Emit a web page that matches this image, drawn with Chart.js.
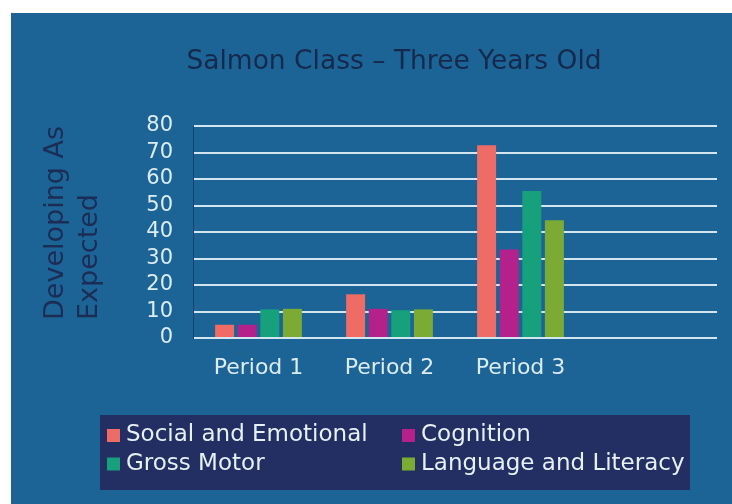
<!DOCTYPE html>
<html>
<head>
<meta charset="utf-8">
<script src="https://cdn.jsdelivr.net/npm/chart.js@4/dist/chart.umd.min.js"></script>
<style>
html,body{margin:0;padding:0;background:#fff;}
#wrap{width:732px;height:504px;position:relative;}
</style>
</head>
<body>
<div id="wrap"><canvas id="c" width="732" height="504"></canvas></div>
<script>
const categories = ['Period 1', 'Period 2', 'Period 3', ''];
const socialEmotional = [5, 16.5, 72.7, null];
const cognition = [5, 11, 33.4, null];
const grossMotor = [10.8, 10.5, 55.5, null];
const languageLiteracy = [11, 10.8, 44.4, null];
const seriesNames = ['Social and Emotional', 'Cognition', 'Gross Motor', 'Language and Literacy'];
const seriesColors = ['#ef6b66', '#b4218b', '#17a07c', '#7bab35'];
const chartTitle = 'Salmon Class \u2013 Three Years Old';
const yTitleLines = ['Developing As', 'Expected'];

const FONT = '"DejaVu Sans", sans-serif';

const decor = {
  id: 'decor',
  beforeDraw(chart) {
    const ctx = chart.ctx;
    ctx.save();
    ctx.fillStyle = '#ffffff';
    ctx.fillRect(0, 0, chart.width, chart.height);
    ctx.fillStyle = '#1c6496';
    ctx.fillRect(11, 13, chart.width - 11, chart.height - 13);
    ctx.restore();
  },
  afterDraw(chart) {
    const ctx = chart.ctx;
    ctx.save();
    // chart title
    ctx.fillStyle = '#15294d';
    ctx.font = '26.5px ' + FONT;
    ctx.textAlign = 'center';
    ctx.textBaseline = 'middle';
    ctx.fillText(chartTitle, 394, 62);
    // y axis title (rotated)
    ctx.save();
    ctx.translate(0, 320);
    ctx.rotate(-Math.PI / 2);
    ctx.textAlign = 'left';
    ctx.font = '27px ' + FONT;
    ctx.fillStyle = '#1b2d55';
    ctx.fillText(yTitleLines[0], 0, 56);
    ctx.fillText(yTitleLines[1], 0, 90);
    ctx.restore();
    // legend
    ctx.fillStyle = '#232e63';
    ctx.fillRect(100, 415, 590, 75);
    const pos = [[107, 435.5], [402, 435.5], [107, 464], [402, 464]];
    ctx.font = '23px ' + FONT;
    ctx.textAlign = 'left';
    ctx.textBaseline = 'middle';
    chart.data.datasets.forEach((ds, i) => {
      const [x, y] = pos[i];
      ctx.fillStyle = ds.backgroundColor;
      ctx.fillRect(x, y - 6.5, 13, 13);
      ctx.fillStyle = '#e6f0f6';
      ctx.fillText(ds.label, x + 19, y);
    });
    ctx.restore();
  }
};

const seriesData = [socialEmotional, cognition, grossMotor, languageLiteracy];

new Chart(document.getElementById('c'), {
  type: 'bar',
  data: {
    labels: categories,
    datasets: seriesData.map((d, i) => ({
      label: seriesNames[i],
      data: d,
      backgroundColor: seriesColors[i],
      borderWidth: 0,
      categoryPercentage: 0.69,
      barPercentage: 0.84
    }))
  },
  options: {
    responsive: false,
    animation: false,
    devicePixelRatio: 1,
    layout: { padding: { top: 126, right: 15, bottom: 116, left: 0 } },
    plugins: {
      legend: { display: false },
      title: { display: false },
      tooltip: { enabled: false }
    },
    scales: {
      x: {
        grid: { display: false, drawTicks: false },
        border: { display: false },
        ticks: { color: '#dcecf5', font: { family: FONT, size: 22 }, padding: 17, maxRotation: 0, autoSkip: false },
        afterFit(s) { s.height = 50; }
      },
      y: {
        min: 0, max: 80,
        ticks: { stepSize: 10, autoSkip: false, color: '#dcecf5', font: { family: FONT, size: 21 }, padding: 20 },
        grid: { color: '#d3e6f0', lineWidth: 2, drawTicks: false },
        border: { display: true, color: 'rgba(20,45,90,0.6)', width: 1 },
        afterFit(s) { s.width = 193; }
      }
    }
  },
  plugins: [decor]
});
</script>
</body>
</html>
